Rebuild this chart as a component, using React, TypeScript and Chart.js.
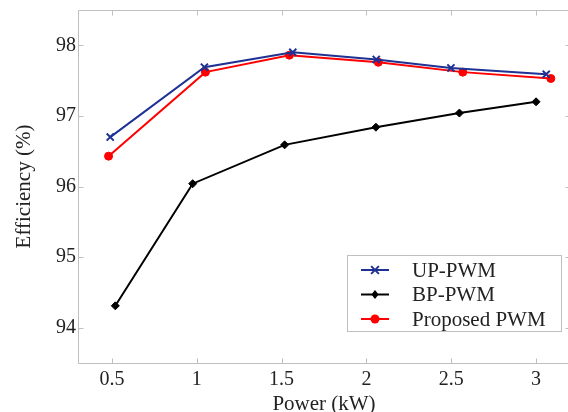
import React, { useEffect, useRef } from 'react';
import { Chart, registerables } from 'chart.js';

Chart.register(...registerables);

// Data
const upX = [0.49, 1.045, 1.566, 2.058, 2.498, 3.06];
const upY = [96.7, 97.69, 97.9, 97.8, 97.68, 97.59];
const bpX = [0.52, 0.976, 1.518, 2.056, 2.548, 3.0];
const bpY = [94.31, 96.04, 96.59, 96.84, 97.04, 97.2];
const prX = [0.48, 1.051, 1.546, 2.07, 2.568, 3.087];
const prY = [96.43, 97.62, 97.86, 97.76, 97.62, 97.53];
const xTicks = [0.5, 1, 1.5, 2, 2.5, 3];
const yTicks = [94, 95, 96, 97, 98];
const seriesLabels = ['UP-PWM', 'BP-PWM', 'Proposed PWM'];
const xTitle = 'Power (kW)';
const yTitle = 'Efficiency (%)';

const FONT = "'Liberation Serif', 'Times New Roman', serif";
const TEXT = '#222222';
const FRAME = '#bfbfbf';

const toPts = (xs: number[], ys: number[]) => xs.map((x, i) => ({ x, y: ys[i] }));

function drawMarker(ctx: CanvasRenderingContext2D, style: string, x: number, y: number, r: number, color: string) {
  ctx.save();
  ctx.fillStyle = color;
  ctx.strokeStyle = color;
  ctx.lineWidth = 2;
  ctx.beginPath();
  if (style === 'crossRot') {
    const d = r * Math.SQRT1_2;
    ctx.moveTo(x - d, y - d);
    ctx.lineTo(x + d, y + d);
    ctx.moveTo(x - d, y + d);
    ctx.lineTo(x + d, y - d);
    ctx.stroke();
  } else if (style === 'rectRot') {
    ctx.moveTo(x, y - r);
    ctx.lineTo(x + r * 0.8, y);
    ctx.lineTo(x, y + r);
    ctx.lineTo(x - r * 0.8, y);
    ctx.closePath();
    ctx.fill();
  } else {
    ctx.arc(x, y, r, 0, Math.PI * 2);
    ctx.fill();
  }
  ctx.restore();
}

const framePlugin = {
  id: 'frame',
  beforeDatasetsDraw(chart: any) {
    const { ctx, chartArea } = chart;
    const { left, top, right, bottom } = chartArea;
    const xs = chart.scales.x;
    const ys = chart.scales.y;
    const L = Math.round(left) + 0.5;
    const T = Math.round(top) + 0.5;
    const R = Math.round(right) + 0.5;
    const B = Math.round(bottom) + 0.5;
    ctx.save();
    ctx.strokeStyle = FRAME;
    ctx.lineWidth = 1;
    ctx.beginPath();
    ctx.rect(L, T, R - L, B - T);
    const tl = 5;
    xTicks.forEach((v) => {
      const px = Math.round(xs.getPixelForValue(v)) + 0.5;
      ctx.moveTo(px, B);
      ctx.lineTo(px, B - tl);
      ctx.moveTo(px, T);
      ctx.lineTo(px, T + tl);
    });
    yTicks.forEach((v) => {
      const py = Math.round(ys.getPixelForValue(v)) + 0.5;
      ctx.moveTo(L, py);
      ctx.lineTo(L + tl, py);
      ctx.moveTo(R, py);
      ctx.lineTo(R - tl, py);
    });
    ctx.stroke();
    ctx.restore();
  },
};

const legendPlugin = {
  id: 'boxLegend',
  afterDraw(chart: any) {
    const { ctx } = chart;
    const bx = 347.5, by = 255.5, bw = 214, bh = 76;
    ctx.save();
    ctx.fillStyle = '#ffffff';
    ctx.fillRect(bx, by, bw, bh);
    ctx.strokeStyle = FRAME;
    ctx.lineWidth = 1;
    ctx.strokeRect(bx, by, bw, bh);
    const rows = [270, 294.5, 319];
    chart.data.datasets.forEach((ds: any, i: number) => {
      const y = rows[i];
      ctx.strokeStyle = ds.borderColor;
      ctx.lineWidth = 2;
      ctx.beginPath();
      ctx.moveTo(361, y);
      ctx.lineTo(389, y);
      ctx.stroke();
      drawMarker(ctx, ds.pointStyle, 375, y, ds.pointRadius + 0.5, ds.borderColor);
      ctx.fillStyle = TEXT;
      ctx.font = `21px ${FONT}`;
      ctx.textBaseline = 'middle';
      ctx.textAlign = 'left';
      ctx.fillText(ds.label, 412, y + 1);
    });
    ctx.restore();
  },
};

export default function App() {
  const ref = useRef<HTMLCanvasElement>(null);

  useEffect(() => {
    if (!ref.current) return;
    const chart = new Chart(ref.current, {
      type: 'scatter',
      data: {
        datasets: [
          {
            label: seriesLabels[0],
            data: toPts(upX, upY),
            showLine: true,
            borderColor: '#1f3192',
            backgroundColor: '#1f3192',
            borderWidth: 2,
            pointStyle: 'crossRot',
            pointRadius: 5,
            pointBorderWidth: 2,
          },
          {
            label: seriesLabels[1],
            data: toPts(bpX, bpY),
            showLine: true,
            borderColor: '#000000',
            backgroundColor: '#000000',
            borderWidth: 2,
            pointStyle: 'rectRot',
            pointRadius: 4,
            pointBorderWidth: 1,
          },
          {
            label: seriesLabels[2],
            data: toPts(prX, prY),
            showLine: true,
            borderColor: '#ff0000',
            backgroundColor: '#ff0000',
            borderWidth: 2,
            pointStyle: 'circle',
            pointRadius: 4,
            pointBorderWidth: 1,
          },
        ],
      },
      options: {
        responsive: false,
        animation: false,
        layout: { autoPadding: false, padding: { left: 0, top: 10, right: 5, bottom: 0 } },
        plugins: {
          legend: { display: false },
          tooltip: { enabled: false },
        },
        scales: {
          x: {
            type: 'linear',
            min: 0.3,
            max: 3.2,
            grid: { display: false, drawTicks: false },
            border: { display: false },
            afterBuildTicks: (s: any) => {
              s.ticks = xTicks.map((v) => ({ value: v }));
            },
            afterFit: (s: any) => {
              s.height = 54;
              s.paddingLeft = 0;
              s.paddingRight = 0;
            },
            ticks: {
              padding: 5,
              color: TEXT,
              font: { family: FONT, size: 20 },
              maxRotation: 0,
              callback: (v: any) => String(v),
            },
            title: {
              display: true,
              text: xTitle,
              color: TEXT,
              font: { family: FONT, size: 21 },
              padding: { top: 0, bottom: 0 },
            },
          },
          y: {
            type: 'linear',
            min: 93.5,
            max: 98.5,
            grid: { display: false, drawTicks: false },
            border: { display: false },
            afterBuildTicks: (s: any) => {
              s.ticks = yTicks.map((v) => ({ value: v }));
            },
            afterFit: (s: any) => {
              s.width = 78;
              s.paddingTop = 0;
              s.paddingBottom = 0;
            },
            ticks: {
              padding: 2,
              color: TEXT,
              font: { family: FONT, size: 20 },
              callback: (v: any) => String(v),
            },
            title: {
              display: true,
              text: yTitle,
              color: TEXT,
              font: { family: FONT, size: 21 },
              padding: { top: 12, bottom: 0 },
            },
          },
        },
      },
      plugins: [framePlugin, legendPlugin],
    });
    return () => chart.destroy();
  }, []);

  return (
    <div style={{ position: 'fixed', left: 0, top: 0, width: 575, height: 417, background: '#fff' }}>
      <canvas ref={ref} width={575} height={417} style={{ width: 575, height: 417, display: 'block' }} />
    </div>
  );
}
